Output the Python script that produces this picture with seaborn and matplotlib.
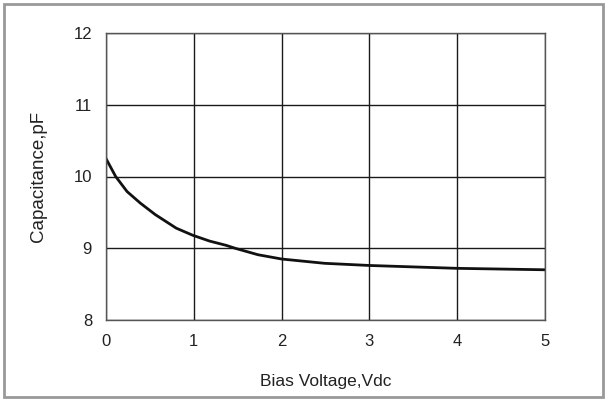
import pandas as pd
import seaborn as sns
import matplotlib.pyplot as plt
from matplotlib.patches import Rectangle

# values
bias_v = [0.0, 0.11, 0.24, 0.39, 0.56, 0.80, 0.99, 1.18, 1.37, 1.47, 1.73, 2.0, 2.49, 3.0, 3.5, 4.0, 4.5, 5.0]
cap_pf = [10.25, 10.0, 9.79, 9.63, 9.47, 9.28, 9.18, 9.10, 9.04, 9.0, 8.91, 8.85, 8.79, 8.76, 8.74, 8.72, 8.71, 8.70]
x_ticks = [0, 1, 2, 3, 4, 5]
y_ticks = [8, 9, 10, 11, 12]

df = pd.DataFrame({'Bias Voltage,Vdc': bias_v, 'Capacitance,pF': cap_pf})

sns.set_style('white')
plt.rcParams['font.family'] = ['Liberation Sans', 'DejaVu Sans']

fig = plt.figure(figsize=(6.07, 4.01), dpi=100)
ax = fig.add_axes([106/607, 81/401, 439/607, 287/401])

sns.lineplot(data=df, x='Bias Voltage,Vdc', y='Capacitance,pF', ax=ax,
             color='#111111', linewidth=2)

ax.set_xlim(0, 5)
ax.set_ylim(8, 12)
ax.set_xticks(x_ticks)
ax.set_yticks(y_ticks)
ax.grid(True, color='#1a1a1a', linewidth=1)
ax.tick_params(length=0, labelsize=12, colors='#222222')
ax.tick_params(axis='x', pad=10)
ax.tick_params(axis='y', pad=10)
for s in ax.spines.values():
    s.set_color('#555555')
    s.set_linewidth(1)

ax.set_xlabel('Bias Voltage,Vdc', fontsize=12.5, color='#222222', labelpad=18)
ax.set_ylabel('Capacitance,pF', fontsize=13.5, color='#222222', labelpad=19)

fig.patches.append(Rectangle((4/607, 4/401), 599/607, 393/401, transform=fig.transFigure,
                             fill=False, edgecolor='#999999', linewidth=2))

fig.savefig('out.png', dpi=100)
